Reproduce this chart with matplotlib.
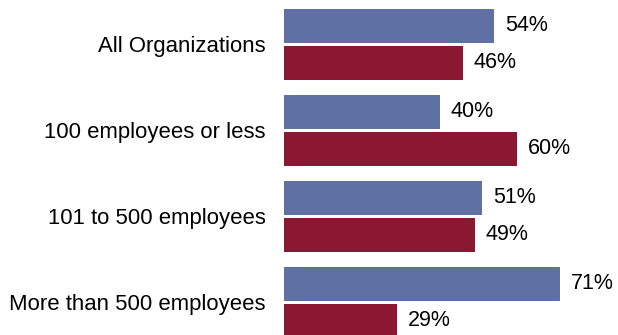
import numpy as np
import matplotlib.pyplot as plt

plt.rcParams['font.family'] = ['Liberation Sans', 'DejaVu Sans']

categories = ["All Organizations", "100 employees or less",
              "101 to 500 employees", "More than 500 employees"]
first_share = [54, 40, 51, 71]
second_share = [46, 60, 49, 29]

blue = "#5f71a3"
red = "#8b1833"

fig = plt.figure(figsize=(6.18, 3.35), dpi=100)
ax = fig.add_axes([284 / 618, 0, 1 - 284 / 618, 1])

y = np.arange(len(categories))
h = 0.395
off = 0.215

ax.barh(y - off, first_share, height=h, color=blue)
ax.barh(y + off, second_share, height=h, color=red)

for yi, v in zip(y - off, first_share):
    ax.text(v + 2.8, yi, f"{v}%", va="center", ha="left", fontsize=15.5)
for yi, v in zip(y + off, second_share):
    ax.text(v + 2.8, yi, f"{v}%", va="center", ha="left", fontsize=15.5)

ax.set_xlim(0, 334 / 3.889)
ax.set_ylim(3.378, -0.517)
ax.set_yticks(y)
ax.set_yticklabels(categories, fontsize=15.9)
ax.tick_params(axis="y", length=0, pad=13)
ax.set_xticks([])
for s in ax.spines.values():
    s.set_visible(False)

fig.savefig("out.png", dpi=100)
